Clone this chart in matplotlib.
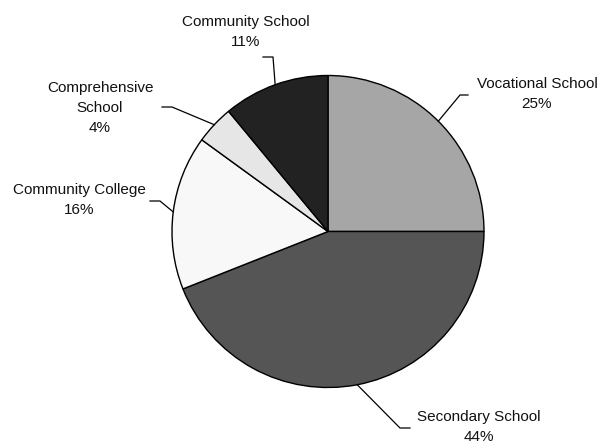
import matplotlib
matplotlib.use("Agg")
import matplotlib.pyplot as plt
import numpy as np

categories = ["Vocational School", "Secondary School", "Community College",
              "Comprehensive\nSchool", "Community School"]
values = [25, 44, 16, 4, 11]
colors = ["#a6a6a6", "#555555", "#f8f8f8", "#e6e6e6", "#222222"]

# label text positions (pixels, top-left origin) and elbow offsets
label_pos = [(537, 94), (479, 427), (79, 200), (100, 108), (246, 32)]
elbow = [(468, 95), (410, 428), (150, 201), (162, 107), (263, 57)]

W, H = 602, 444
plt.rcParams["font.family"] = ["Liberation Sans", "DejaVu Sans"]
fig = plt.figure(figsize=(W / 100, H / 100), dpi=100)
ax = fig.add_axes([0, 0, 1, 1])

cx, cy, r = 328, H - 231.5, 156
wedges, _ = ax.pie(values, colors=colors, startangle=90, counterclock=False,
                   center=(cx, cy), radius=r, frame=True,
                   wedgeprops=dict(edgecolor="black", linewidth=1.0))
ax.set_xlim(0, W)
ax.set_ylim(0, H)
ax.set_aspect("equal")
ax.axis("off")

total = sum(values)
for w, cat, v, (lx, ly), (ex, ey) in zip(wedges, categories, values, label_pos, elbow):
    ang = np.deg2rad((w.theta1 + w.theta2) / 2)
    px, py = cx + r * np.cos(ang), cy + r * np.sin(ang)
    ey_d = H - ey
    if ex < cx:
        hx = ex + 10 if ex > 140 else ex + 22
    else:
        hx = ex - 8 if ex > 440 else ex - 10
    ax.plot([ex, hx, px], [ey_d, ey_d, py], color="black", lw=0.9)
    ax.text(lx, H - ly, f"{cat}\n{round(v / total * 100)}%", ha="center",
            va="center", fontsize=11, linespacing=1.55, color="#111111")

fig.savefig("out.png", dpi=100)
